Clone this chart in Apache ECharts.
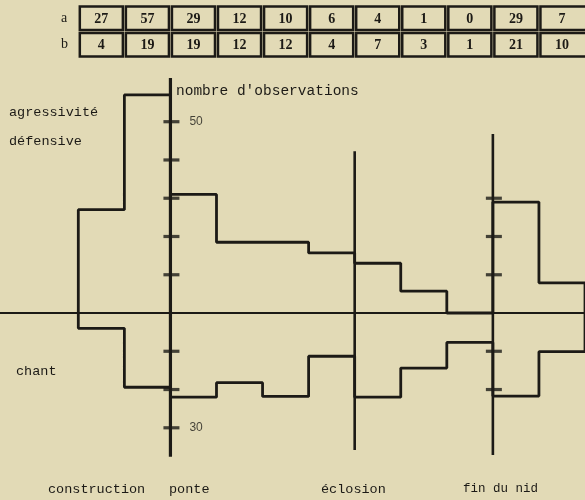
<!DOCTYPE html>
<html>
<head>
<meta charset="utf-8">
<script src="https://cdn.jsdelivr.net/npm/echarts/dist/echarts.min.js"></script>
<style>
  html, body { margin: 0; padding: 0; background: #e2dab6; }
  #chart { width: 585px; height: 500px; }
</style>
</head>
<body>
<div id="chart"></div>
<script>
// table at the top
var rowNames = ['a', 'b'];
var tableA = [27, 57, 29, 12, 10, 6, 4, 1, 0, 29, 7];
var tableB = [4, 19, 19, 12, 12, 4, 7, 3, 1, 21, 10];

// step heights, one per period
var agressivite = [27, 57, 31, 18.5, 18.5, 15.7, 13, 5.7, 0, 29, 7.9];
var chant = [4, 19.4, 22, 18.2, 21.8, 11.3, 22, 14.4, 7.7, 21.7, 10.1];

// vertical phase lines (period position, top, bottom)
var phasePos = [2, 6, 9];
var phaseTop = [61.4, 42.3, 46.8];
var phaseBottom = [-37.6, -35.8, -37.1];

// tick marks
var ponteTicks = [50, 40, 30, 20, 10, -10, -20, -30];
var finTicks = [30, 20, 10, -10, -20];
var tickLabels = [[50, '50'], [-30, '30']];

var ink = '#1c1a16';
var mono = '"Liberation Mono", monospace';

function stepData(values, sign) {
  var d = [[0, 0]];
  values.forEach(function (v, i) { d.push([i, sign * v]); });
  d.push([values.length, 0]);
  return d;
}

var tableData = [];
tableA.forEach(function (v, i) { tableData.push([i, 'a', v]); });
tableB.forEach(function (v, i) { tableData.push([i, 'b', v]); });

var phaseData = phasePos.map(function (x, i) { return [x, phaseTop[i], phaseBottom[i]]; });

var tickData = ponteTicks.map(function (v) { return [2, v]; })
  .concat(finTicks.map(function (v) { return [9, v]; }));

var myChart = echarts.init(document.getElementById('chart'));
var option = {
  animation: false,
  backgroundColor: '#e2dab6',
  grid: [
    { left: 0, right: 0, top: 75.8, bottom: 41.6 },
    { left: 0, right: 0, top: 5, height: 53 }
  ],
  xAxis: [
    {
      type: 'value', gridIndex: 0, min: -1.7, max: 11,
      axisLine: { onZero: true, lineStyle: { color: ink, width: 2 } },
      axisTick: { show: false }, axisLabel: { show: false }, splitLine: { show: false }
    },
    {
      type: 'value', gridIndex: 1, min: -1.7, max: 11, show: false
    }
  ],
  yAxis: [
    { type: 'value', gridIndex: 0, min: -38, max: 62, show: false },
    {
      type: 'category', gridIndex: 1, data: rowNames, inverse: true,
      axisLine: { show: false }, axisTick: { show: false }, splitLine: { show: false },
      axisLabel: {
        inside: true, margin: 61, color: ink,
        fontFamily: '"Liberation Serif", serif', fontSize: 14
      }
    }
  ],
  graphic: [
    { type: 'text', left: 176, top: 84, style: { text: "nombre d'observations", font: '14.5px ' + mono, fill: ink } },
    { type: 'text', left: 9, top: 105, style: { text: 'agressivité', font: '13.5px ' + mono, fill: ink } },
    { type: 'text', left: 9, top: 134, style: { text: 'défensive', font: '13.5px ' + mono, fill: ink } },
    { type: 'text', left: 16, top: 364, style: { text: 'chant', font: '13.5px ' + mono, fill: ink } },
    { type: 'text', left: 48, top: 482, style: { text: 'construction', font: '13.5px ' + mono, fill: ink } },
    { type: 'text', left: 169, top: 482, style: { text: 'ponte', font: '13.5px ' + mono, fill: ink } },
    { type: 'text', left: 321, top: 482, style: { text: 'éclosion', font: '13.5px ' + mono, fill: ink } },
    { type: 'text', left: 463, top: 482, style: { text: 'fin du nid', font: '12.5px ' + mono, fill: ink } }
  ],
  series: [
    {
      name: 'agressivité défensive', type: 'line', step: 'end',
      xAxisIndex: 0, yAxisIndex: 0, showSymbol: false,
      lineStyle: { color: ink, width: 2.8 },
      data: stepData(agressivite, 1)
    },
    {
      name: 'chant', type: 'line', step: 'end',
      xAxisIndex: 0, yAxisIndex: 0, showSymbol: false,
      lineStyle: { color: ink, width: 2.8 },
      data: stepData(chant, -1)
    },
    {
      name: 'phases', type: 'custom', xAxisIndex: 0, yAxisIndex: 0,
      data: phaseData,
      renderItem: function (params, api) {
        var a = api.coord([api.value(0), api.value(1)]);
        var b = api.coord([api.value(0), api.value(2)]);
        return {
          type: 'line',
          shape: { x1: a[0], y1: a[1], x2: b[0], y2: b[1] },
          style: { stroke: ink, lineWidth: params.dataIndex === 0 ? 3.2 : 2.6 }
        };
      }
    },
    {
      name: 'ticks', type: 'scatter', xAxisIndex: 0, yAxisIndex: 0,
      symbol: 'rect', symbolSize: [16, 3.2], symbolOffset: [1, 0],
      itemStyle: { color: ink },
      data: tickData
    },
    {
      name: 'tickLabels', type: 'scatter', xAxisIndex: 0, yAxisIndex: 0,
      symbolSize: 0,
      data: tickLabels.map(function (t) { return { value: [2, t[0]], name: t[1] }; }),
      label: {
        show: true, position: 'right', distance: 19, color: ink,
        fontFamily: '"Liberation Sans", sans-serif', fontSize: 12,
        formatter: function (p) { return p.name; }
      }
    },
    {
      name: 'table', type: 'custom', xAxisIndex: 1, yAxisIndex: 1,
      data: tableData,
      renderItem: function (params, api) {
        var i = api.value(0);
        var row = api.value(1);
        var p0 = api.coord([i, row]);
        var p1 = api.coord([i + 1, row]);
        var h = api.size([1, 1])[1];
        // the last column runs off the right edge of the page
        var extra = i === tableA.length - 1 ? 8 : 0;
        return {
          type: 'group',
          children: [
            {
              type: 'rect',
              shape: { x: p0[0] + 1.5, y: p0[1] - h / 2 + 1.5, width: p1[0] - p0[0] - 3 + extra, height: h - 3 },
              style: { fill: 'none', stroke: ink, lineWidth: 2.5 }
            },
            {
              type: 'text',
              style: {
                text: String(api.value(2)), x: (p0[0] + p1[0]) / 2, y: p0[1] + 1,
                align: 'center', verticalAlign: 'middle',
                font: 'bold 14px "Liberation Serif", serif', fill: ink
              }
            }
          ]
        };
      }
    }
  ]
};
myChart.setOption(option);
</script>
</body>
</html>
